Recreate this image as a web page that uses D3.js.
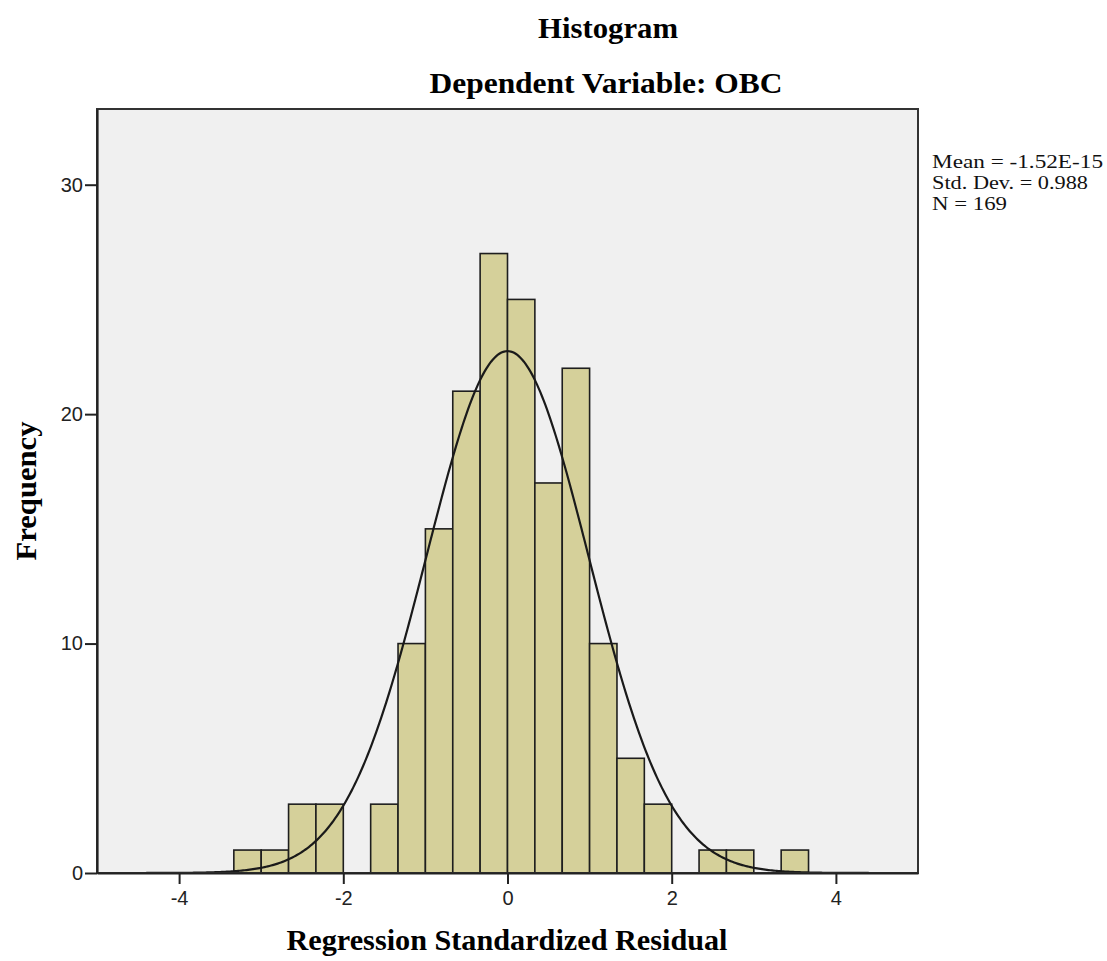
<!DOCTYPE html>
<html>
<head>
<meta charset="utf-8">
<script src="https://cdn.jsdelivr.net/npm/d3@7"></script>
<style>
  body { margin: 0; background: #fff; }
  svg { display: block; }
</style>
</head>
<body>
<svg id="chart" width="1107" height="961"></svg>
<script>
// Bin edges (width 1/3) and counts of the standardized residuals
const binStarts = [-10/3, -3, -8/3, -7/3, -2, -5/3, -4/3, -1, -2/3, -1/3,
                   0, 1/3, 2/3, 1, 4/3, 5/3, 2, 7/3, 8/3, 3, 10/3];
const binCounts = [1, 1, 3, 3, 0, 3, 10, 15, 21, 27,
                   25, 17, 22, 10, 5, 3, 0, 1, 1, 0, 1];
const binWidth = 1/3;

// Summary statistics shown beside the plot
const statMean = -1.52e-15;
const statSD = 0.988;
const statN = 169;
const statLines = ["Mean = -1.52E-15", "Std. Dev. = 0.988", "N = 169"];

const xTicks = [-4, -2, 0, 2, 4];
const yTicks = [0, 10, 20, 30];

const svg = d3.select("#chart");
const plot = { left: 97, right: 918, top: 109, bottom: 873 };

const x = d3.scaleLinear().domain([-5, 5]).range([plot.left, plot.right]);
const y = d3.scaleLinear().domain([0, 33.3]).range([plot.bottom, plot.top]);

const serif = "'Liberation Serif', 'Times New Roman', serif";
const sans = "'Liberation Sans', Arial, sans-serif";

// Plot background
svg.append("rect")
  .attr("x", plot.left).attr("y", plot.top)
  .attr("width", plot.right - plot.left).attr("height", plot.bottom - plot.top)
  .attr("fill", "#f0f0f0");

// Bars
const bins = binStarts.map((s, i) => ({ x0: s, x1: s + binWidth, n: binCounts[i] }))
  .filter(d => d.n > 0);
svg.append("g").selectAll("rect").data(bins).join("rect")
  .attr("x", d => x(d.x0))
  .attr("y", d => y(d.n))
  .attr("width", d => x(d.x1) - x(d.x0))
  .attr("height", d => y(0) - y(d.n))
  .attr("fill", "#d5d09a")
  .attr("stroke", "#1e1e1e")
  .attr("stroke-width", 1.6);

// Fitted normal curve, scaled to counts per bin
const pdf = v => Math.exp(-0.5 * ((v - statMean) / statSD) ** 2) / (statSD * Math.sqrt(2 * Math.PI));
const curvePts = d3.range(-4.4, 4.4001, 0.02).map(v => [v, statN * binWidth * pdf(v)]);
svg.append("path")
  .datum(curvePts)
  .attr("fill", "none")
  .attr("stroke", "#1a1a1a")
  .attr("stroke-width", 2.2)
  .attr("d", d3.line().x(d => x(d[0])).y(d => y(d[1])));

// Frame
svg.append("rect")
  .attr("x", plot.left).attr("y", plot.top)
  .attr("width", plot.right - plot.left).attr("height", plot.bottom - plot.top)
  .attr("fill", "none").attr("stroke", "#333").attr("stroke-width", 2);

// Axes
const fmt = d => String(d); // plain hyphen for negatives
const xAxis = svg.append("g")
  .attr("transform", `translate(0,${plot.bottom})`)
  .call(d3.axisBottom(x).tickValues(xTicks).tickSize(11).tickSizeOuter(0).tickPadding(7).tickFormat(fmt));
const yAxis = svg.append("g")
  .attr("transform", `translate(${plot.left},0)`)
  .call(d3.axisLeft(y).tickValues(yTicks).tickSize(12).tickSizeOuter(0).tickPadding(2).tickFormat(fmt));
[xAxis, yAxis].forEach(g => {
  g.select(".domain").attr("stroke", "#222").attr("stroke-width", 2.2);
  g.selectAll(".tick line").attr("stroke", "#222").attr("stroke-width", 2);
  g.selectAll(".tick text").attr("fill", "#222")
    .style("font-family", sans).style("font-size", "20px");
});

// Titles
function boldTitle(sel, size, len) {
  return sel.attr("text-anchor", "middle")
    .style("font-family", serif).style("font-weight", "bold").style("font-size", size + "px")
    .attr("textLength", len).attr("lengthAdjust", "spacingAndGlyphs");
}
boldTitle(svg.append("text").attr("x", 608).attr("y", 38), 30, 140).text("Histogram");
boldTitle(svg.append("text").attr("x", 606).attr("y", 93), 30, 353).text("Dependent Variable: OBC");
boldTitle(svg.append("text").attr("x", 507).attr("y", 950), 30, 441).text("Regression Standardized Residual");
boldTitle(svg.append("text")
  .attr("transform", `translate(36,${(plot.top + plot.bottom) / 2}) rotate(-90)`), 30, 139)
  .text("Frequency");

// Summary statistics
svg.append("g").selectAll("text").data(statLines).join("text")
  .attr("x", 932)
  .attr("y", (d, i) => 168 + i * 21)
  .style("font-family", serif).style("font-size", "19px").attr("fill", "#111")
  .attr("lengthAdjust", "spacingAndGlyphs")
  .attr("textLength", (d, i) => [171, 156, 75][i])
  .text(d => d);
</script>
</body>
</html>
